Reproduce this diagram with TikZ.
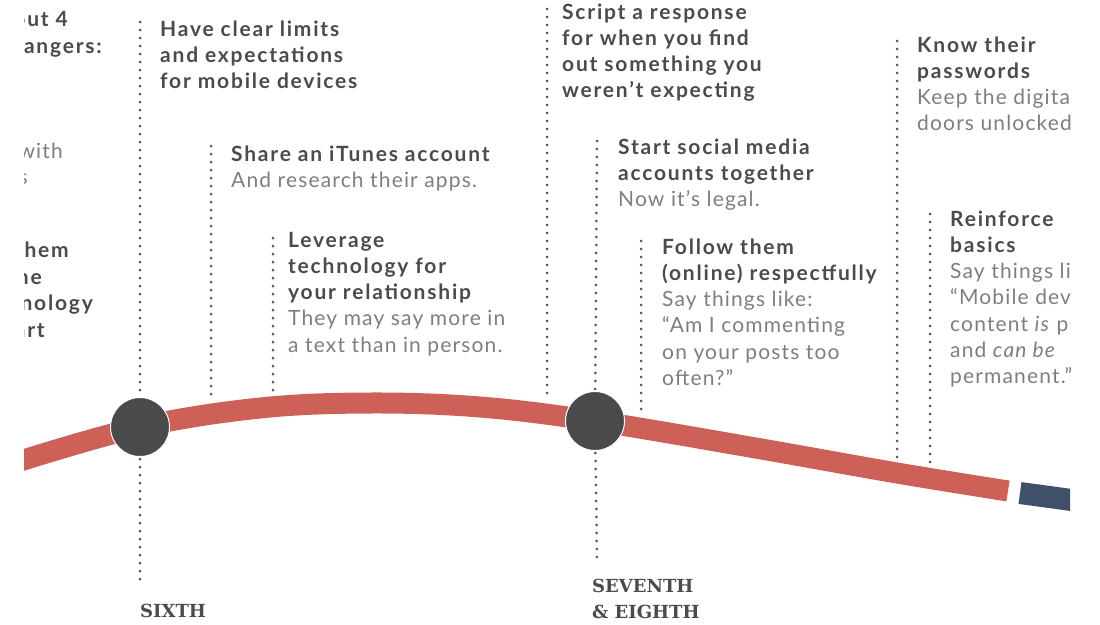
\documentclass[tikz,border=0pt]{standalone}
\usepackage{fontspec}
\setmainfont{Lato}[LetterSpace=5.5, BoldFeatures={LetterSpace=8.5}, ItalicFeatures={LetterSpace=5.5}]
\newfontfamily\slab{DejaVu Serif}
\definecolor{hdcol}{HTML}{4B4B4B}
\definecolor{bdcol}{HTML}{7E7E7E}
\definecolor{dotcol}{HTML}{555555}
\definecolor{redc}{HTML}{CD6158}
\definecolor{bluec}{HTML}{3F5068}
\definecolor{circc}{HTML}{4A4A4A}
\newcommand\hd[1]{{\color{hdcol}\bfseries #1}}
\newcommand\bd[1]{{\color{bdcol}#1}}
\tikzset{
  txt/.style={anchor=base west, align=left, inner sep=0pt, font=\fontsize{21}{26.3}\selectfont},
  ltxt/.style={anchor=base east, inner sep=0pt, font=\fontsize{21}{26.3}\selectfont},
  dots/.style={draw=dotcol, line width=3pt, line cap=round, dash pattern=on 0pt off 8pt},
  redline/.style={draw=redc, line width=21pt, line cap=butt},
  blueline/.style={draw=bluec, line width=22pt, line cap=butt},
  stage/.style={circle, fill=circc, draw=white, line width=1pt, minimum size=59pt, inner sep=0pt},
  lbl/.style={anchor=base west, align=left, inner sep=0pt, text=hdcol, font=\slab\bfseries\fontsize{18}{26}\selectfont}
}
\begin{document}
\begin{tikzpicture}[x=1pt,y=-1pt]
\useasboundingbox (0,0) rectangle (1100,624);
\begin{scope}
\clip (24,0) rectangle (1070,624);
% left cut-off column
\node[ltxt] (l1) at (68,26) {\hd{about 4}};
\node[ltxt] (l2) at (102,53) {\hd{dangers:}};
\node[ltxt] (l3) at (63,158) {\bd{with}};
\node[ltxt] (l4) at (28,184) {\bd{apps}};
\node[ltxt] (l5) at (69,257) {\hd{them}};
\node[ltxt] (l6) at (42,284) {\hd{the}};
\node[ltxt] (l7) at (93,310) {\hd{technology}};
\node[ltxt] (l8) at (45,337) {\hd{part}};
% stage positions
\coordinate (c1p) at (140,427);
\coordinate (c2p) at (595,421);
% dotted leaders
\coordinate (d1t) at (140,22);
\coordinate (d1b) at (140,585);
\coordinate (d2t) at (211,146);
\coordinate (d2b) at (211,400);
\coordinate (d3t) at (273,238);
\coordinate (d3b) at (273,396);
\coordinate (d4t) at (547,9);
\coordinate (d4b) at (547,400);
\coordinate (d5t) at (597,141);
\coordinate (d5b) at (597,560);
\coordinate (d6t) at (641,241);
\coordinate (d6b) at (641,410);
\coordinate (d7t) at (897,41);
\coordinate (d7b) at (897,462);
\coordinate (d8t) at (930,214);
\coordinate (d8b) at (930,466);
\draw[dots] (d1t) -- (c1p);
\draw[dots] (c1p) -- (d1b);
\draw[dots] (d2t) -- (d2b);
\draw[dots] (d3t) -- (d3b);
\draw[dots] (d4t) -- (d4b);
\draw[dots] (d5t) -- (c2p);
\draw[dots] (c2p) -- (d5b);
\draw[dots] (d6t) -- (d6b);
\draw[dots] (d7t) -- (d7b);
\draw[dots] (d8t) -- (d8b);
% timeline
\draw[redline] plot[smooth, tension=0.6] coordinates {(20,461) (140,427) (260,408) (370,403) (480,407) (595,421) (750,447) (897,473) (1008,491)};
\draw[blueline] (1020,493) -- (1075,500.5);
\node[stage] (c1) at (c1p) {};
\node[stage] (c2) at (c2p) {};
% text blocks (anchored at the baseline of the last line)
\node[txt] (t1) at (160,88.6) {\hd{Have clear limits}\\\hd{and expectations}\\\hd{for mobile devices}};
\node[txt] (t2) at (231,187.3) {\hd{Share an iTunes account}\\\bd{And research their apps.}};
\node[txt] (t3) at (288,352.2) {\hd{Leverage}\\\hd{technology for}\\\hd{your relationship}\\\bd{They may say more in}\\\bd{a text than in person.}};
\node[txt] (t4) at (562,97.9) {\hd{Script a response}\\\hd{for when you find}\\\hd{out something you}\\\hd{weren’t expecting}};
\node[txt] (t5) at (618,206.6) {\hd{Start social media}\\\hd{accounts together}\\\bd{Now it’s legal.}};
\node[txt] (t6) at (662,385.5) {\hd{Follow them}\\\hd{(online) respectfully}\\\bd{Say things like:}\\\bd{“Am I commenting}\\\bd{on your posts too}\\\bd{often?”}};
\node[txt] (t7) at (917,130.9) {\hd{Know their}\\\hd{passwords}\\\bd{Keep the digital}\\\bd{doors unlocked.}};
\node[txt] (t8) at (950,383.8) {\hd{Reinforce}\\\hd{basics}\\\bd{Say things like:}\\\bd{“Mobile devices}\\\bd{content \textit{is} public}\\\bd{and \textit{can be}}\\\bd{permanent.”}};
\end{scope}
% stage labels
\node[lbl] (s6) at (140,617) {SIXTH};
\node[lbl] (s78) at (592,618) {SEVENTH\\\& EIGHTH};
\end{tikzpicture}
\end{document}
